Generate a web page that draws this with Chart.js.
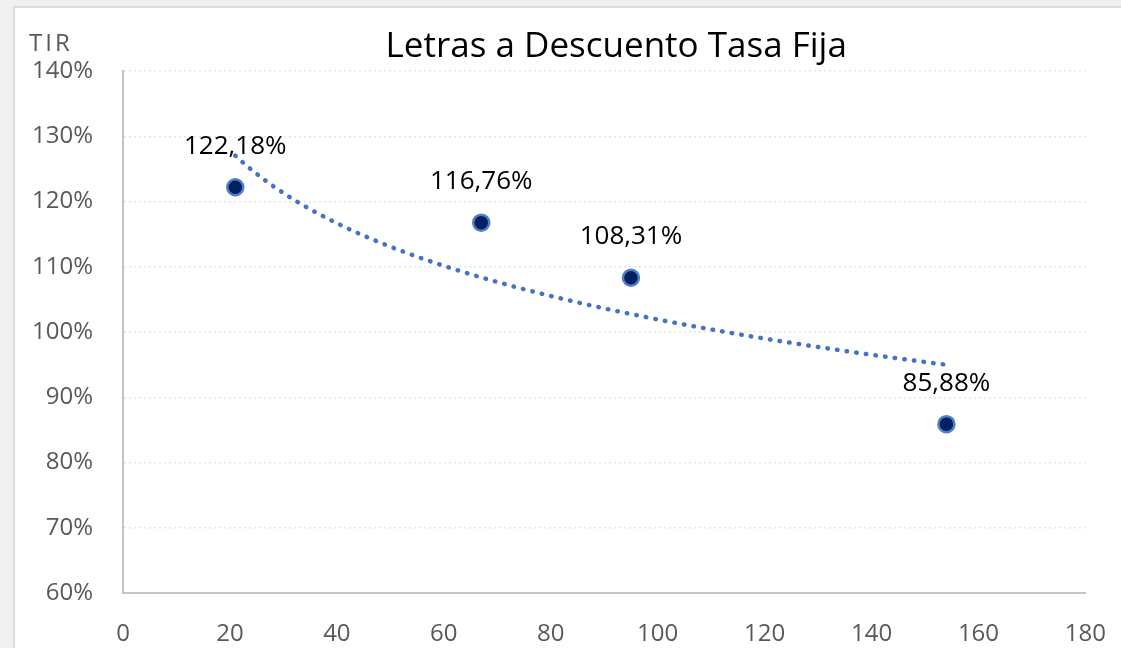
<!DOCTYPE html>
<html>
<head>
<meta charset="utf-8">
<script src="https://cdn.jsdelivr.net/npm/chart.js@4"></script>
<style>
html,body{margin:0;padding:0;background:#f0f0f0;overflow:hidden;width:1121px;height:648px;}
#frame{position:absolute;left:13px;top:6px;width:1200px;height:700px;background:#fff;border:2px solid #dcdcdc;}
#wrap{position:absolute;left:0;top:0;width:1118px;height:640px;}
</style>
</head>
<body>
<div id="frame"><div id="wrap"><canvas id="chart"></canvas></div></div>
<script>
const plazos = [21, 67, 95, 154];
const tir = [122.18, 116.76, 108.31, 85.88];
const xTicks = [0, 20, 40, 60, 80, 100, 120, 140, 160, 180];
const yTicks = [60, 70, 80, 90, 100, 110, 120, 130, 140];
const titulo = 'Letras a Descuento Tasa Fija';
const ejeY = 'TIR';

const FONT = "'Open Sans', 'Noto Sans', sans-serif";

// linea de tendencia logaritmica (como la de Excel)
function tendenciaLog(xs, ys){
const lx = xs.map(v => Math.log(v));
const mx = lx.reduce((a,b)=>a+b,0)/lx.length;
const my = ys.reduce((a,b)=>a+b,0)/ys.length;
let sxy = 0, sxx = 0;
lx.forEach((v,i)=>{ sxy += (v-mx)*(ys[i]-my); sxx += (v-mx)*(v-mx); });
const b = sxy/sxx, a = my - b*mx;
const pts = [];
const x0 = Math.min(...xs), x1 = Math.max(...xs);
for(let i=0;i<=80;i++){
const x = x0 + (x1-x0)*i/80;
pts.push({x:x, y:a + b*Math.log(x)});
}
return pts;
}

const etiquetas = {
id:'etiquetas',
afterDatasetsDraw(chart){
const ctx = chart.ctx;
const meta = chart.getDatasetMeta(1);
ctx.save();
ctx.font = '26px ' + FONT;
ctx.fillStyle = '#000';
ctx.textAlign = 'center';
ctx.textBaseline = 'middle';
meta.data.forEach((p,i)=>{
ctx.fillText(tir[i].toFixed(2).replace('.', ',') + '%', p.x, p.y - 41);
});
ctx.restore();
}
};

const textos = {
id:'textos',
afterDraw(chart){
const ctx = chart.ctx;
const area = chart.chartArea;
ctx.save();
ctx.textBaseline = 'middle';
ctx.font = '35px ' + FONT;
ctx.fillStyle = '#000';
ctx.textAlign = 'center';
ctx.fillText(titulo, (area.left + area.right)/2 + 12, 39);
ctx.font = '24px ' + FONT;
ctx.fillStyle = '#595959';
ctx.textAlign = 'left';
ctx.letterSpacing = '3px';
ctx.fillText(ejeY, 14, 36);
ctx.restore();
}
};

new Chart(document.getElementById('chart'),{
type:'scatter',
data:{
datasets:[{
type:'line',
data:tendenciaLog(plazos, tir),
borderColor:'#4472C4',
borderWidth:4.5,
borderDash:[0.5, 9.2],
borderCapStyle:'round',
pointRadius:0,
fill:false,
tension:0
},{
data:plazos.map((x,i)=>({x:x, y:tir[i]})),
backgroundColor:'#002060',
borderColor:'#4F7FC8',
borderWidth:2.5,
pointRadius:8,
pointHoverRadius:8
}]
},
options:{
responsive:true,
maintainAspectRatio:false,
animation:false,
layout:{padding:{left:15, right:13, top:63, bottom:3}},
plugins:{
legend:{display:false},
tooltip:{enabled:false},
title:{display:false}
},
scales:{
x:{
type:'linear',
min:xTicks[0],
max:xTicks[xTicks.length-1],
afterBuildTicks(scale){ scale.ticks = xTicks.map(v=>({value:v})); },
afterFit(scale){ scale.height = 52; },
grid:{display:false, drawTicks:false},
border:{display:true, color:'#c4c4c4', width:2},
ticks:{color:'#595959', font:{family:FONT, size:24}, padding:27, maxRotation:0}
},
y:{
type:'linear',
min:yTicks[0],
max:yTicks[yTicks.length-1],
afterBuildTicks(scale){ scale.ticks = yTicks.map(v=>({value:v})); },
afterFit(scale){ scale.width = 93; },
grid:{color:'#e6e6e6', lineWidth:1.5, drawTicks:false},
border:{display:true, color:'#c4c4c4', width:2, dash:[2,3]},
ticks:{color:'#595959', font:{family:FONT, size:24}, padding:30, callback:v=>v+'%'}
}
}
},
plugins:[etiquetas, textos]
});
</script>
</body>
</html>
